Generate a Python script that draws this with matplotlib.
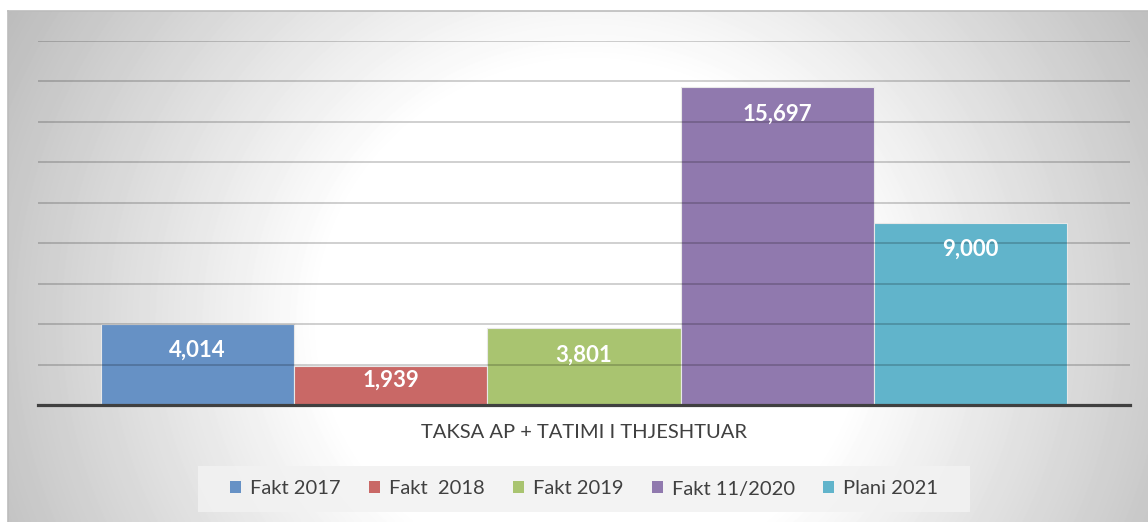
import numpy as np
import matplotlib
matplotlib.use("Agg")
import matplotlib.pyplot as plt
from matplotlib.patches import Patch, Rectangle

plt.rcParams['font.family'] = ['Lato', 'DejaVu Sans']

category = "TAKSA AP + TATIMI I THJESHTUAR"
series = ["Fakt 2017", "Fakt  2018", "Fakt 2019", "Fakt 11/2020", "Plani 2021"]
values = [4014, 1939, 3801, 15697, 9000]
colors = ["#6691c5", "#c96866", "#a9c470", "#9079ae", "#61b4cb"]

W, H = 1148, 522
fig = plt.figure(figsize=(W / 100, H / 100), dpi=100)
fig.patch.set_facecolor("white")

# background with radial gradient (chart area starts at 8,11 px)
bg = fig.add_axes([8 / W, 0, 1 - 8 / W, (H - 11) / H], zorder=0)
yy, xx = np.mgrid[11:H, 8:W]
d = np.sqrt((xx - 590) ** 2 + ((yy - 320) * 1.05) ** 2)
shade = np.clip(255 - 0.17 * np.clip(d - 270, 0, None), 188, 255) / 255
bg.imshow(shade, cmap="gray", vmin=0, vmax=1, aspect="auto", interpolation="bilinear")
bg.set_axis_off()
fig.add_artist(plt.Line2D([8 / W, 1], [(H - 11) / H] * 2, color="#bcbcbc", lw=1.2))
fig.add_artist(plt.Line2D([8 / W] * 2, [0, (H - 11) / H], color="#bcbcbc", lw=1.2))

ax = fig.add_axes([38 / W, 117 / H, 1092 / W, 364.5 / H], zorder=1)
ax.patch.set_alpha(0)

x = np.arange(len(values))
bars = ax.bar(x, values, width=1.0, color=colors, edgecolor="#e8e8e8", linewidth=0.8, zorder=2)

# bars occupy 966 of 1092 px
pad = (1092 - 966) / 2 / (966 / 5)
ax.set_xlim(-0.5 - pad, len(values) - 0.5 + pad)
ax.set_ylim(0, 18000)

for gy in range(2000, 18001, 2000):
    ax.axhline(gy, color="black", alpha=0.2, lw=1.3, zorder=3)

for xi, v in zip(x, values):
    off = min(1330, 0.36 * v)
    ax.text(xi, v - off, f"{v:,}", ha="center", va="center", color="white",
            fontsize=16, fontweight="bold", zorder=4)

for s in ["top", "right", "left"]:
    ax.spines[s].set_visible(False)
ax.spines["bottom"].set_color("#404040")
ax.spines["bottom"].set_linewidth(2.3)
ax.spines["bottom"].set_zorder(5)
ax.set_yticks([])
ax.set_xticks([x.mean()])
ax.set_xticklabels([category], fontsize=14.5, color="#404040")
ax.tick_params(axis="x", length=0, pad=14)

handles = [Patch(facecolor=c, edgecolor="none") for c in colors]
leg = fig.legend(handles, series, loc="center", bbox_to_anchor=(584 / W, (H - 489) / H),
                 ncol=5, frameon=False, fontsize=14.5, handlelength=0.55, handleheight=0.55,
                 handletextpad=0.45, columnspacing=1.4, labelcolor="#404040")

fig.canvas.draw()
bb = leg.get_window_extent()
fig.add_artist(Rectangle((bb.x0 - 24, H - 512), bb.width + 48, 46, transform=None,
                         facecolor="#f2f2f2", edgecolor="none", alpha=0.85, zorder=0.5))

fig.savefig("out.png", dpi=100)
